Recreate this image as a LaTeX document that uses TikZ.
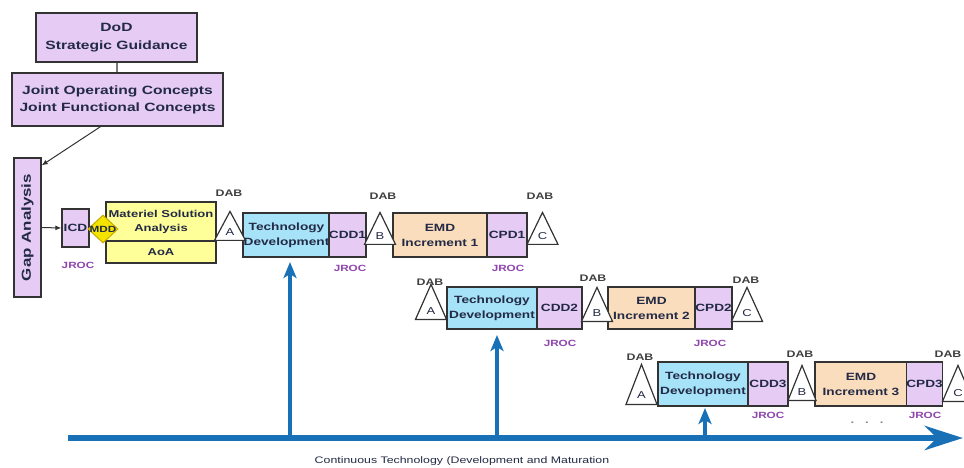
\documentclass[tikz,border=0pt]{standalone}
\usepackage{fontspec}
\setmainfont{Liberation Sans}[FakeStretch=1.3]
\usetikzlibrary{arrows.meta,shapes.geometric,calc}
\definecolor{lavender}{HTML}{E6CCF5}
\definecolor{msayellow}{HTML}{FFFF99}
\definecolor{mddyellow}{HTML}{F2E400}
\definecolor{mddedge}{HTML}{C9A800}
\definecolor{tdblue}{HTML}{A6E2F8}
\definecolor{emdpeach}{HTML}{FADDBD}
\definecolor{flowblue}{HTML}{1870B6}
\definecolor{jrocpurple}{HTML}{8E44AD}
\definecolor{dabgray}{HTML}{404040}
\definecolor{linegray}{HTML}{333333}
\definecolor{boxtext}{HTML}{232A45}

\begin{document}
\begin{tikzpicture}[x=1pt,y=-1pt,>=Latex,
 box/.style={draw=linegray,line width=1.3pt,align=center,inner sep=0pt,text=boxtext,
   font=\fontsize{10.5}{15}\selectfont\bfseries},
 pbox/.style={box,fill=lavender},
 tbox/.style={box,fill=tdblue},
 ebox/.style={box,fill=emdpeach},
 mbox/.style={box,fill=msayellow,font=\fontsize{10}{14}\selectfont\bfseries},
 dab/.style={draw=linegray,line width=1.2pt,fill=white,isosceles triangle,
   shape border rotate=90,isosceles triangle stretches,minimum width=31pt,
   minimum height=32pt,inner sep=0pt,anchor=south,text=boxtext,
   font=\fontsize{10}{12}\selectfont},
 dabtxt/.style={font=\fontsize{9.5}{11}\selectfont\bfseries,text=dabgray},
 jroc/.style={font=\fontsize{9}{11}\selectfont\bfseries,text=jrocpurple},
 flow/.style={-{Stealth[length=16pt,width=13pt,inset=4pt]},line width=3.5pt,flowblue},
 thin/.style={-{Latex[length=6pt,width=5pt]},line width=1pt,linegray}]
\useasboundingbox (0,0) rectangle (964,468);
% guidance chain
\node[pbox,minimum width=161pt,minimum height=49pt,
  font=\fontsize{12}{18}\selectfont\bfseries] (dod) at (116.5,37.5)
  {DoD\\Strategic Guidance};
\node[pbox,minimum width=211pt,minimum height=53pt,
  font=\fontsize{12}{17}\selectfont\bfseries] (joc) at (117.5,99.5)
  {Joint Operating Concepts\\Joint Functional Concepts};
\node[pbox,rotate=90,minimum width=139pt,minimum height=27pt,
  font=\fontsize{13}{15}\selectfont\bfseries] (gap) at (27.5,227.5) {Gap Analysis};
\draw[line width=1.3pt,linegray] (dod) -- (joc);
\draw[thin] ([xshift=-17pt]joc.south) -- ([yshift=-8pt]gap.south east);
% increment 1
\node[pbox,minimum width=27pt,minimum height=38pt] (icd) at (75.5,228) {ICD};
\node[mbox,minimum width=110pt,minimum height=39pt] (msa) at (161,221.5) {Materiel Solution\\Analysis};
\node[mbox,minimum width=110pt,minimum height=22pt] (aoa) at (161,252) {AoA};
\node[diamond,draw=mddedge,line width=1pt,fill=mddyellow,minimum width=30pt,
  minimum height=28pt,inner sep=0pt,
  label={[font=\fontsize{9}{10}\selectfont\bfseries,text=boxtext]center:MDD}] (mdd) at (103,229) {};
\draw[thin] (gap.south) -- (icd.west);
\node[tbox,minimum width=87pt,minimum height=44pt] (td1) at (286.5,235) {Technology\\Development};
\node[pbox,minimum width=35pt,minimum height=44pt] (cdd1) at (347.5,235) {CDD1};
\node[ebox,minimum width=94pt,minimum height=44pt] (emd1) at (440,235) {EMD\\Increment 1};
\node[pbox,minimum width=40pt,minimum height=44pt] (cpd1) at (507,235) {CPD1};
\node[dab,minimum height=29pt] (a1) at (230,241) {A};
\node[dab] (b1) at (380,245) {B};
\node[dab] (c1) at (542.5,245) {C};
\node[dabtxt] (dab a1) at (229,193) {DAB};
\node[dabtxt] (dab b1) at (383,196) {DAB};
\node[dabtxt] (dab c1) at (540,196) {DAB};
\node[jroc] (jroc icd) at (78,265) {JROC};
\node[jroc] (jroc cdd1) at (350,268) {JROC};
\node[jroc] (jroc cpd1) at (508,268) {JROC};
% increment 2
\node[tbox,minimum width=90pt,minimum height=42pt] (td2) at (492,308) {Technology\\Development};
\node[pbox,minimum width=45pt,minimum height=42pt] (cdd2) at (559.5,308) {CDD2};
\node[ebox,minimum width=87pt,minimum height=42pt] (emd2) at (651.5,308) {EMD\\Increment 2};
\node[pbox,minimum width=37pt,minimum height=42pt] (cpd2) at (713.5,308) {CPD2};
\node[dab,minimum height=35pt] (a2) at (431,320) {A};
\node[dab,minimum height=34pt] (b2) at (597,322) {B};
\node[dab,minimum height=34pt] (c2) at (747,322) {C};
\node[dabtxt] (dab a2) at (430,282) {DAB};
\node[dabtxt] (dab b2) at (593,278) {DAB};
\node[dabtxt] (dab c2) at (746,280) {DAB};
\node[jroc] (jroc cdd2) at (560,343) {JROC};
\node[jroc] (jroc cpd2) at (710,343) {JROC};
% increment 3
\node[tbox,minimum width=90pt,minimum height=44pt] (td3) at (703,384) {Technology\\Development};
\node[pbox,minimum width=40pt,minimum height=44pt] (cdd3) at (768,384) {CDD3};
\node[ebox,minimum width=92pt,minimum height=44pt] (emd3) at (861,384) {EMD\\Increment 3};
\node[pbox,minimum width=35pt,minimum height=44pt] (cpd3) at (924.5,384) {CPD3};
\node[dab,minimum height=40pt] (a3) at (641.5,405) {A};
\node[dab,minimum width=28pt,minimum height=35pt] (b3) at (802,401) {B};
\node[dab,minimum height=36pt] (c3) at (958,402) {C};
\node[dabtxt] (dab a3) at (640,357) {DAB};
\node[dabtxt] (dab b3) at (800,354) {DAB};
\node[dabtxt] (dab c3) at (948,354) {DAB};
\node[jroc] (jroc cdd3) at (768,415) {JROC};
\node[jroc] (jroc cpd3) at (925,415) {JROC};
\node[font=\fontsize{10}{10}\selectfont\bfseries,text=gray] (more) at (867,423) {.\hspace{11pt}.\hspace{11pt}.};
% technology development stream
\coordinate (axs) at (68,438);
\coordinate (axe) at (963,438);
\coordinate (up1) at (290,262);
\coordinate (up2) at (497,335);
\coordinate (up3) at (705,408);
\draw[flow] (up1 |- axs) -- (up1);
\draw[flow] (up2 |- axs) -- (up2);
\draw[flow] (up3 |- axs) -- (up3);
\draw[-{Stealth[length=38pt,width=24pt,inset=12pt]},line width=6.5pt,flowblue] (axs) -- (axe);
\node[font=\fontsize{9.5}{11}\selectfont,text=boxtext] (caption) at (462,461)
  {Continuous Technology (Development and Maturation};
\end{tikzpicture}
\end{document}
